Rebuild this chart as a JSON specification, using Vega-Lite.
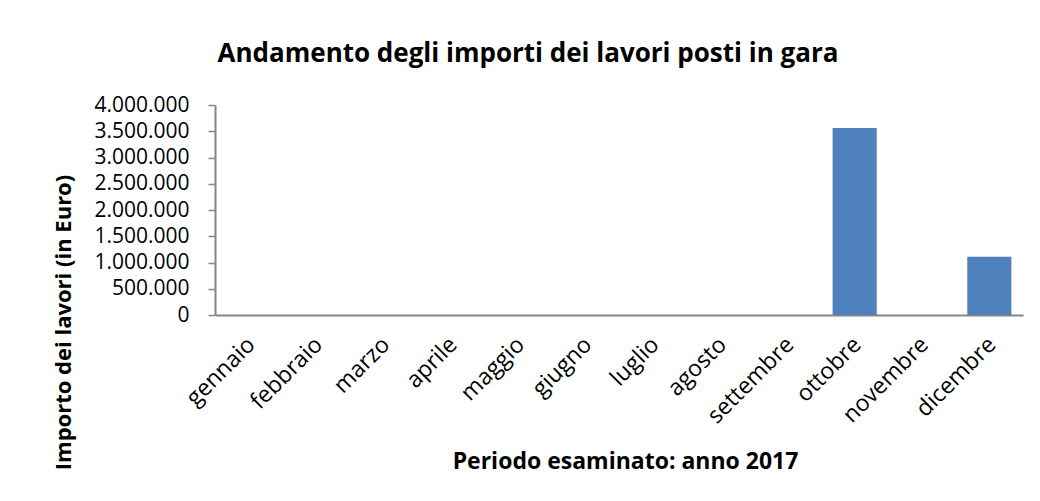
{
  "$schema": "https://vega.github.io/schema/vega-lite/v6.json",
  "autosize": {"type": "none"},
  "width": 808,
  "height": 210,
  "padding": {"left": 215, "top": 105, "right": 17, "bottom": 186},
  "background": "white",
  "title": {
    "text": "Andamento degli importi dei lavori posti in gara",
    "font": "Open Sans",
    "fontSize": 26,
    "fontWeight": "bold",
    "color": "#000000",
    "anchor": "middle",
    "dx": -91,
    "offset": 27
  },
  "data": {
    "values": [
      {"mese": "gennaio", "importo": 0},
      {"mese": "febbraio", "importo": 0},
      {"mese": "marzo", "importo": 0},
      {"mese": "aprile", "importo": 0},
      {"mese": "maggio", "importo": 0},
      {"mese": "giugno", "importo": 0},
      {"mese": "luglio", "importo": 0},
      {"mese": "agosto", "importo": 0},
      {"mese": "settembre", "importo": 0},
      {"mese": "ottobre", "importo": 3560000},
      {"mese": "novembre", "importo": 0},
      {"mese": "dicembre", "importo": 1110000}
    ]
  },
  "mark": {"type": "bar", "color": "#4F81BD"},
  "encoding": {
    "x": {
      "field": "mese",
      "type": "nominal",
      "sort": null,
      "scale": {"paddingInner": 0.345, "paddingOuter": 0.1725},
      "axis": {
        "title": "Periodo esaminato: anno 2017",
        "titleFont": "Open Sans",
        "titleFontSize": 23,
        "titleFontWeight": "bold",
        "titleColor": "#000000",
        "titleX": 410,
        "titleY": 153,
        "titleBaseline": "alphabetic",
        "titleAlign": "center",
        "labelAngle": -45,
        "labelFont": "Open Sans",
        "labelFontSize": 23,
        "labelColor": "#000000",
        "labelPadding": 18,
        "labelOffset": -5,
        "ticks": false,
        "domainColor": "#868686",
        "domainWidth": 2,
        "grid": false
      }
    },
    "y": {
      "field": "importo",
      "type": "quantitative",
      "scale": {"domain": [0, 4000000], "nice": false},
      "axis": {
        "title": "Importo dei lavori (in Euro)",
        "titleFont": "Open Sans",
        "titleFontSize": 22,
        "titleFontWeight": "bold",
        "titleColor": "#000000",
        "titleAngle": -90,
        "titleX": -152,
        "titleY": 217,
        "titleBaseline": "middle",
        "titleAlign": "center",
        "values": [0, 500000, 1000000, 1500000, 2000000, 2500000, 3000000, 3500000, 4000000],
        "format": ",d",
        "labelFont": "Open Sans",
        "labelFontSize": 21,
        "labelColor": "#000000",
        "labelPadding": 19,
        "tickSize": 7,
        "tickColor": "#868686",
        "tickWidth": 1.5,
        "domainColor": "#868686",
        "domainWidth": 2,
        "grid": false
      }
    }
  },
  "config": {
    "view": {"stroke": null},
    "locale": {
      "number": {"decimal": ",", "thousands": ".", "grouping": [3], "currency": ["€", ""]}
    }
  }
}
